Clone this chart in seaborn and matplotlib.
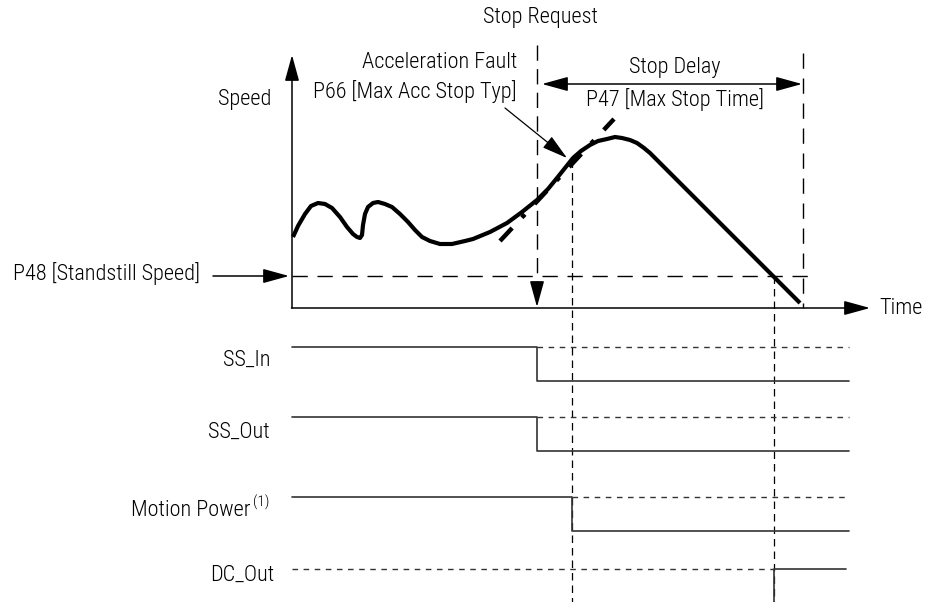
import matplotlib
matplotlib.use("Agg")
import matplotlib.pyplot as plt
import seaborn as sns
import pandas as pd

sns.set_style("white")
plt.rcParams["font.family"] = ["Roboto Condensed", "DejaVu Sans"]
plt.rcParams["font.weight"] = 300
plt.rcParams["text.color"] = "black"

# speed curve (pixel space: time -> right, speed -> up)
speed_t = [293, 298, 305, 311, 318, 325, 332, 340, 347, 353, 357, 360, 362, 363, 365, 368,
           373, 378, 385, 392, 400, 408, 415, 422, 430, 440, 452, 465, 473, 490, 507, 522,
           537, 548, 557, 565, 573, 581, 590, 598, 607, 615, 622, 630, 637, 644, 650, 800]
speed_v = [237, 226, 214, 206, 203, 204, 208, 217, 227, 234, 237, 238, 235, 225, 214, 207,
           203, 202, 204, 207, 214, 222, 230, 237, 241, 244, 244, 241, 239, 232, 223, 212,
           200, 189, 178, 168, 158, 151, 145, 141, 139, 137, 138, 140, 143, 148, 153, 303]

# acceleration limit (dash-dot tangent)
acc_t = [500, 614]
acc_v = [241, 119]

# event times
t0 = 292          # time axis origin
t_stop = 537      # stop request
t_fault = 572     # acceleration fault
t_stand = 774     # standstill reached
t_delay = 803     # end of stop delay
t_end = 849
y_axis0 = 308     # speed zero
y_stand = 276     # standstill speed

# timing signals: name, high level, low level, switch time
signals = ["SS_In", "SS_Out", "Motion Power"]
sig_high = [347, 417, 497]
sig_low = [381, 451, 531]
sig_switch = [t_stop, t_stop, t_fault]
sig_label_y = [360, 432, 510]
dc_level = 569

fig = plt.figure(figsize=(9.3, 6.02), dpi=100)
ax = fig.add_axes([0, 0, 1, 1])

fs = 16
arr = dict(arrowstyle="-|>,head_length=0.8,head_width=0.22", mutation_scale=20,
           color="black", lw=1.1, shrinkA=0, shrinkB=0)

# axes with arrows
ax.annotate("", xy=(t0, 55), xytext=(t0, y_axis0), arrowprops=arr)
ax.annotate("", xy=(870, y_axis0), xytext=(t0 - 0.5, y_axis0), arrowprops=arr)
ax.text(271, 100, "Speed", fontsize=fs, ha="right", va="center")
ax.text(879, 309, "Time", fontsize=fs, ha="left", va="center")

# standstill speed
ax.plot([t0, 817], [y_stand, y_stand], color="black", lw=1, dashes=(11, 7))
ax.annotate("", xy=(t0 - 3, y_stand), xytext=(213, y_stand), arrowprops=arr)
ax.text(13, 274, "P48 [Standstill Speed]", fontsize=fs, ha="left", va="center")

# stop request
ax.plot([t_stop, t_stop], [45, 288], color="black", lw=1, dashes=(11, 6))
ax.annotate("", xy=(t_stop, 307), xytext=(t_stop, 285), arrowprops=arr)
ax.text(540, 18, "Stop Request", fontsize=fs, ha="center", va="center")

# stop delay
ax.plot([t_delay, t_delay], [53, y_axis0], color="black", lw=1, dashes=(11, 7))
ax.annotate("", xy=(542, 84), xytext=(t_delay - 1, 84),
            arrowprops=dict(arr, arrowstyle="<|-|>,head_length=0.8,head_width=0.22"))
ax.text(675, 68, "Stop Delay", fontsize=fs, ha="center", va="center")
ax.text(675, 100, "P47 [Max Stop Time]", fontsize=fs, ha="center", va="center")

# acceleration fault
ax.text(517, 63, "Acceleration Fault", fontsize=fs, ha="right", va="center")
ax.text(517, 92, "P66 [Max Acc Stop Typ]", fontsize=fs, ha="right", va="center")
ax.annotate("", xy=(567, 158), xytext=(505, 108), arrowprops=dict(arr, lw=0.9))

# event lines down through the signals
ax.plot([t_fault, t_fault], [160, 602], color="black", lw=0.9, dashes=(6, 4))
ax.plot([t_stand, t_stand], [y_stand, 602], color="black", lw=0.9, dashes=(6, 4))

# speed curve and acceleration limit
sns.lineplot(x=speed_t, y=speed_v, sort=False, estimator=None, ax=ax,
             color="black", lw=3, solid_capstyle="butt", solid_joinstyle="round")
ax.plot(acc_t, acc_v, color="black", lw=3.2, dashes=(4, 3.2, 1, 3.2))

# timing signals
for name, hi, lo, ts, ly in zip(signals, sig_high, sig_low, sig_switch, sig_label_y):
    df = pd.DataFrame({"t": [t0, ts, ts, t_end], "v": [hi, hi, lo, lo]})
    sns.lineplot(data=df, x="t", y="v", sort=False, estimator=None, ax=ax,
                 color="#333333", lw=1.2)
    ax.plot([ts, t_end], [hi, hi], color="#333333", lw=1, dashes=(4, 4))
    if name == "Motion Power":
        ax.text(250, ly, name, fontsize=fs, ha="right", va="center")
        ax.text(253, ly - 8, "(1)", fontsize=11, ha="left", va="center")
    else:
        ax.text(270, ly, name, fontsize=fs, ha="right", va="center")

# DC_Out
ax.plot([t0, t_stand], [dc_level, dc_level], color="#333333", lw=1, dashes=(4, 4))
dc = pd.DataFrame({"t": [t_stand, t_stand, 846], "v": [602, dc_level, dc_level]})
sns.lineplot(data=dc, x="t", y="v", sort=False, estimator=None, ax=ax, color="#333333", lw=1.2)
ax.text(274, 575, "DC_Out", fontsize=fs, ha="right", va="center")

ax.set_xlim(0, 930)
ax.set_ylim(602, 0)
ax.axis("off")
fig.savefig("out.png", dpi=100)
